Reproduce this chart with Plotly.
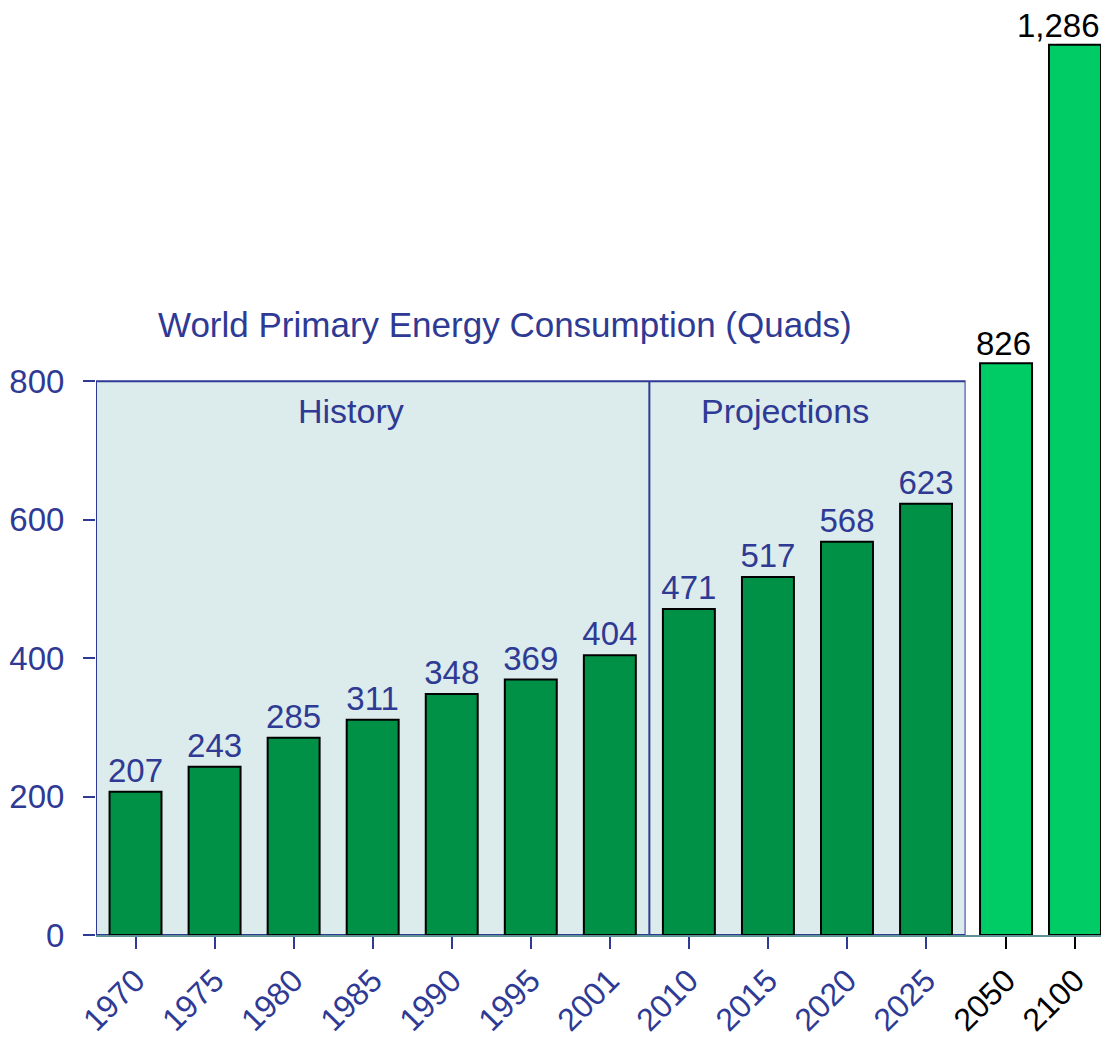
import plotly.graph_objects as go

# Data
years = ["1970", "1975", "1980", "1985", "1990", "1995", "2001", "2010", "2015", "2020", "2025"]
values = [207, 243, 285, 311, 348, 369, 404, 471, 517, 568, 623]
long_years = ["2050", "2100"]
long_values = [826, 1286]
y_ticks = [0, 200, 400, 600, 800]

BLUE = "#2E3A94"
DARK_GREEN = "#009147"
BRIGHT_GREEN = "#00CC66"
PANEL = "#DCEBEB"
AXIS_TEAL = "#5F9094"
FONT = "Liberation Sans, Arial, sans-serif"

W, H = 1101, 1030
L, R, T, B = 87.5, 0, 0, 101
plot_w = W - L - R
split = (957.5 - L) / plot_w

fig = go.Figure()

fig.add_trace(go.Bar(
    x=years, y=values, xaxis="x", yaxis="y",
    marker=dict(color=DARK_GREEN, line=dict(color="black", width=2)),
    width=0.657,
    text=[str(v) for v in values], textposition="outside",
    textfont=dict(color=BLUE, size=33, family=FONT),
    constraintext="none", cliponaxis=False, showlegend=False,
))
fig.add_trace(go.Bar(
    x=long_years, y=long_values, xaxis="x2", yaxis="y",
    marker=dict(color=BRIGHT_GREEN, line=dict(color="black", width=2)),
    width=0.754, cliponaxis=False, showlegend=False,
))

ymax = (H - B - T) / (555 / 800)

long_label_shift = [-3, -17]
annotations = [
    dict(text="World Primary Energy Consumption (Quads)", xref="x", yref="y",
         x=4.68, y=882, showarrow=False,
         font=dict(color=BLUE, size=35, family=FONT)),
    dict(text="History", xref="x", yref="y", x=2.72, y=757, showarrow=False,
         font=dict(color=BLUE, size=34, family=FONT)),
    dict(text="Projections", xref="x", yref="y", x=8.22, y=757, showarrow=False,
         font=dict(color=BLUE, size=34, family=FONT)),
]
for i, (v, sh) in enumerate(zip(long_values, long_label_shift)):
    annotations.append(dict(
        text=f"{v:,}", xref="x2", yref="y", x=i, y=v, yanchor="bottom",
        xshift=sh, yshift=0, showarrow=False, borderpad=0,
        font=dict(color="black", size=33, family=FONT)))

fig.update_layout(
    width=W, height=H,
    margin=dict(l=L, r=R, t=T, b=B),
    paper_bgcolor="white", plot_bgcolor="rgba(0,0,0,0)",
    font=dict(family=FONT),
    xaxis=dict(
        domain=[0, split], type="category", range=[-0.5, 10.5],
        showline=True, linecolor=AXIS_TEAL, linewidth=2,
        ticks="outside", ticklen=12, tickwidth=2, tickcolor=BLUE,
        tickangle=-45, tickfont=dict(color=BLUE, size=32, family=FONT),
        showgrid=False, zeroline=False, anchor="y",
    ),
    xaxis2=dict(
        domain=[split, 1], type="category", range=[-0.587, 1.493],
        showline=True, linecolor=AXIS_TEAL, linewidth=2,
        ticks="outside", ticklen=12, tickwidth=2, tickcolor="black",
        tickangle=-45, tickfont=dict(color="black", size=32, family=FONT),
        showgrid=False, zeroline=False, anchor="y",
    ),
    yaxis=dict(
        range=[0, ymax], tickvals=y_ticks, showline=False, showgrid=False,
        zeroline=False, ticks="outside", ticklen=12, tickwidth=2, tickcolor=BLUE,
        tickfont=dict(color=BLUE, size=33, family=FONT), ticklabelstandoff=12,
    ),
    shapes=[
        dict(type="rect", xref="x", yref="y", x0=-0.5, x1=10.5, y0=0, y1=800,
             fillcolor=PANEL, line=dict(color=BLUE, width=2), layer="below"),
        dict(type="line", xref="x", yref="y", x0=6.5, x1=6.5, y0=0, y1=800,
             line=dict(color=BLUE, width=2), layer="below"),
    ],
    annotations=annotations,
    bargap=0.3,
)

fig.write_html("out.html")
